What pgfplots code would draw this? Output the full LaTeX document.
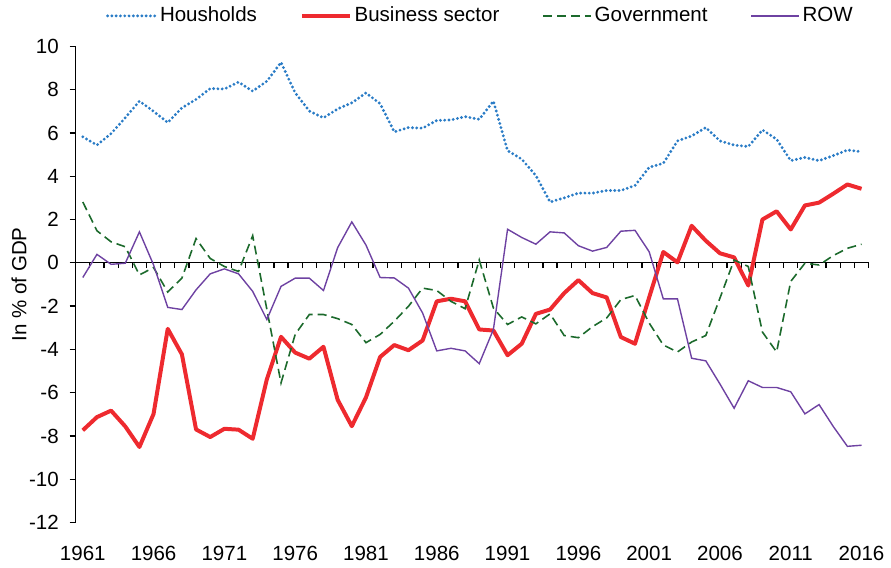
\documentclass[border=0pt]{standalone}
\usepackage{fontspec}
\setmainfont{Liberation Sans}
\usepackage{pgfplots}
\usepackage{pgfplotstable}
\pgfplotsset{compat=1.18}
\definecolor{hhblue}{HTML}{2A7CC6}
\definecolor{busred}{HTML}{EE2A2F}
\definecolor{govgreen}{HTML}{1C6A2C}
\definecolor{rowpurple}{HTML}{6E42A2}

% year, households, business, government, rest of world (in % of GDP)
\pgfplotstableread{
year hh bus gov row
1961 5.82 -7.74 2.81 -0.68
1962 5.44 -7.13 1.48 0.39
1963 5.97 -6.83 0.97 -0.07
1964 6.70 -7.56 0.74 -0.02
1965 7.47 -8.51 -0.56 1.43
1966 7.00 -6.98 -0.22 -0.10
1967 6.48 -3.05 -1.35 -2.06
1968 7.16 -4.23 -0.71 -2.16
1969 7.55 -7.70 1.12 -1.25
1970 8.05 -8.05 0.20 -0.51
1971 8.03 -7.67 -0.17 -0.28
1972 8.35 -7.71 -0.40 -0.51
1973 7.93 -8.13 1.25 -1.32
1974 8.39 -5.38 -2.15 -2.62
1975 9.26 -3.42 -5.55 -1.09
1976 7.85 -4.15 -3.31 -0.71
1977 7.01 -4.43 -2.39 -0.71
1978 6.70 -3.88 -2.39 -1.28
1979 7.11 -6.33 -2.58 0.70
1980 7.39 -7.55 -2.85 1.89
1981 7.85 -6.22 -3.69 0.82
1982 7.35 -4.35 -3.31 -0.68
1983 6.05 -3.80 -2.70 -0.70
1984 6.25 -4.04 -2.01 -1.17
1985 6.22 -3.59 -1.17 -2.32
1986 6.58 -1.78 -1.28 -4.07
1987 6.60 -1.66 -1.78 -3.95
1988 6.75 -1.78 -2.12 -4.07
1989 6.63 -3.08 0.13 -4.66
1990 7.47 -3.13 -2.09 -3.08
1991 5.18 -4.27 -2.85 1.55
1992 4.79 -3.74 -2.50 1.17
1993 4.03 -2.36 -2.82 0.86
1994 2.81 -2.16 -2.36 1.43
1995 3.00 -1.40 -3.36 1.38
1996 3.22 -0.80 -3.46 0.79
1997 3.22 -1.40 -2.95 0.54
1998 3.34 -1.60 -2.55 0.71
1999 3.34 -3.43 -1.70 1.46
2000 3.57 -3.74 -1.51 1.50
2001 4.41 -1.60 -2.78 0.51
2002 4.60 0.50 -3.80 -1.67
2003 5.63 0.02 -4.12 -1.67
2004 5.86 1.71 -3.66 -4.41
2005 6.25 1.02 -3.36 -4.53
2006 5.63 0.44 -1.63 -5.60
2007 5.44 0.25 0.13 -6.72
2008 5.37 -1.05 -0.17 -5.45
2009 6.14 2.00 -3.20 -5.76
2010 5.71 2.38 -4.12 -5.76
2011 4.72 1.54 -0.86 -5.96
2012 4.87 2.65 -0.02 -6.98
2013 4.72 2.78 -0.10 -6.55
2014 4.95 3.19 0.33 -7.56
2015 5.21 3.62 0.67 -8.48
2016 5.13 3.42 0.86 -8.43
}\sectors

\begin{document}
\begin{tikzpicture}[font=\fontsize{10.3}{12}\selectfont]
\path (0,0) rectangle (445.5pt,281pt);

% zero line with a tick between every pair of years
\begin{axis}[
  scale only axis, width=398pt, height=239pt,
  at={(38pt,19pt)}, anchor=south west,
  xmin=1960.5, xmax=2016.5, ymin=-12, ymax=10,
  axis x line=middle, axis y line=none,
  x axis line style={-, line width=0.6pt},
  xtick={1960.5,1961.5,...,2016.5}, xticklabel=\empty,
  tick align=outside, major tick length=2.7pt,
  xtick style={line width=0.6pt, black},
  ytick=\empty,
]
\end{axis}

\begin{axis}[
  scale only axis, width=398pt, height=239pt,
  at={(38pt,19pt)}, anchor=south west,
  xmin=1960.5, xmax=2016.5, ymin=-12, ymax=10,
  axis lines=left, axis line style={-, line width=0.6pt},
  x axis line style={draw=none},
  xtick={1961,1966,...,2016}, xtick style={draw=none},
  ytick={-12,-10,...,10},
  tick align=outside, major tick length=3pt,
  ytick style={line width=0.6pt, black},
  /pgf/number format/assume math mode=true,
  /pgf/number format/1000 sep={},
  xticklabel style={anchor=north, yshift=-5.5pt},
  yticklabel style={anchor=east, xshift=-2pt},
  ylabel={In \% of GDP},
  ylabel style={at={(axis description cs:0,0.5)}, anchor=center, yshift=28.5pt},
  legend columns=4,
  legend style={at={(0.511,1.064)}, anchor=center, draw=none, fill=none,
    /tikz/every even column/.append style={column sep=20pt},
    nodes={inner sep=1.5pt}},
  legend image code/.code={\draw[#1] (0pt,0pt) -- (24pt,0pt);},
]
\addplot[hhblue, line width=1.6pt, line cap=round, dash pattern=on 0pt off 2.15pt] table[x=year, y=hh] {\sectors};
\addlegendentry{Housholds}
\addplot[busred, line width=2pt, line join=round] table[x=year, y=bus] {\sectors};
\addlegendentry{Business sector}
\addplot[govgreen, line width=0.8pt, dash pattern=on 4.5pt off 2.5pt] table[x=year, y=gov] {\sectors};
\addlegendentry{Government}
\addplot[rowpurple, line width=0.7pt] table[x=year, y=row] {\sectors};
\addlegendentry{ROW}
\end{axis}
\end{tikzpicture}
\end{document}
